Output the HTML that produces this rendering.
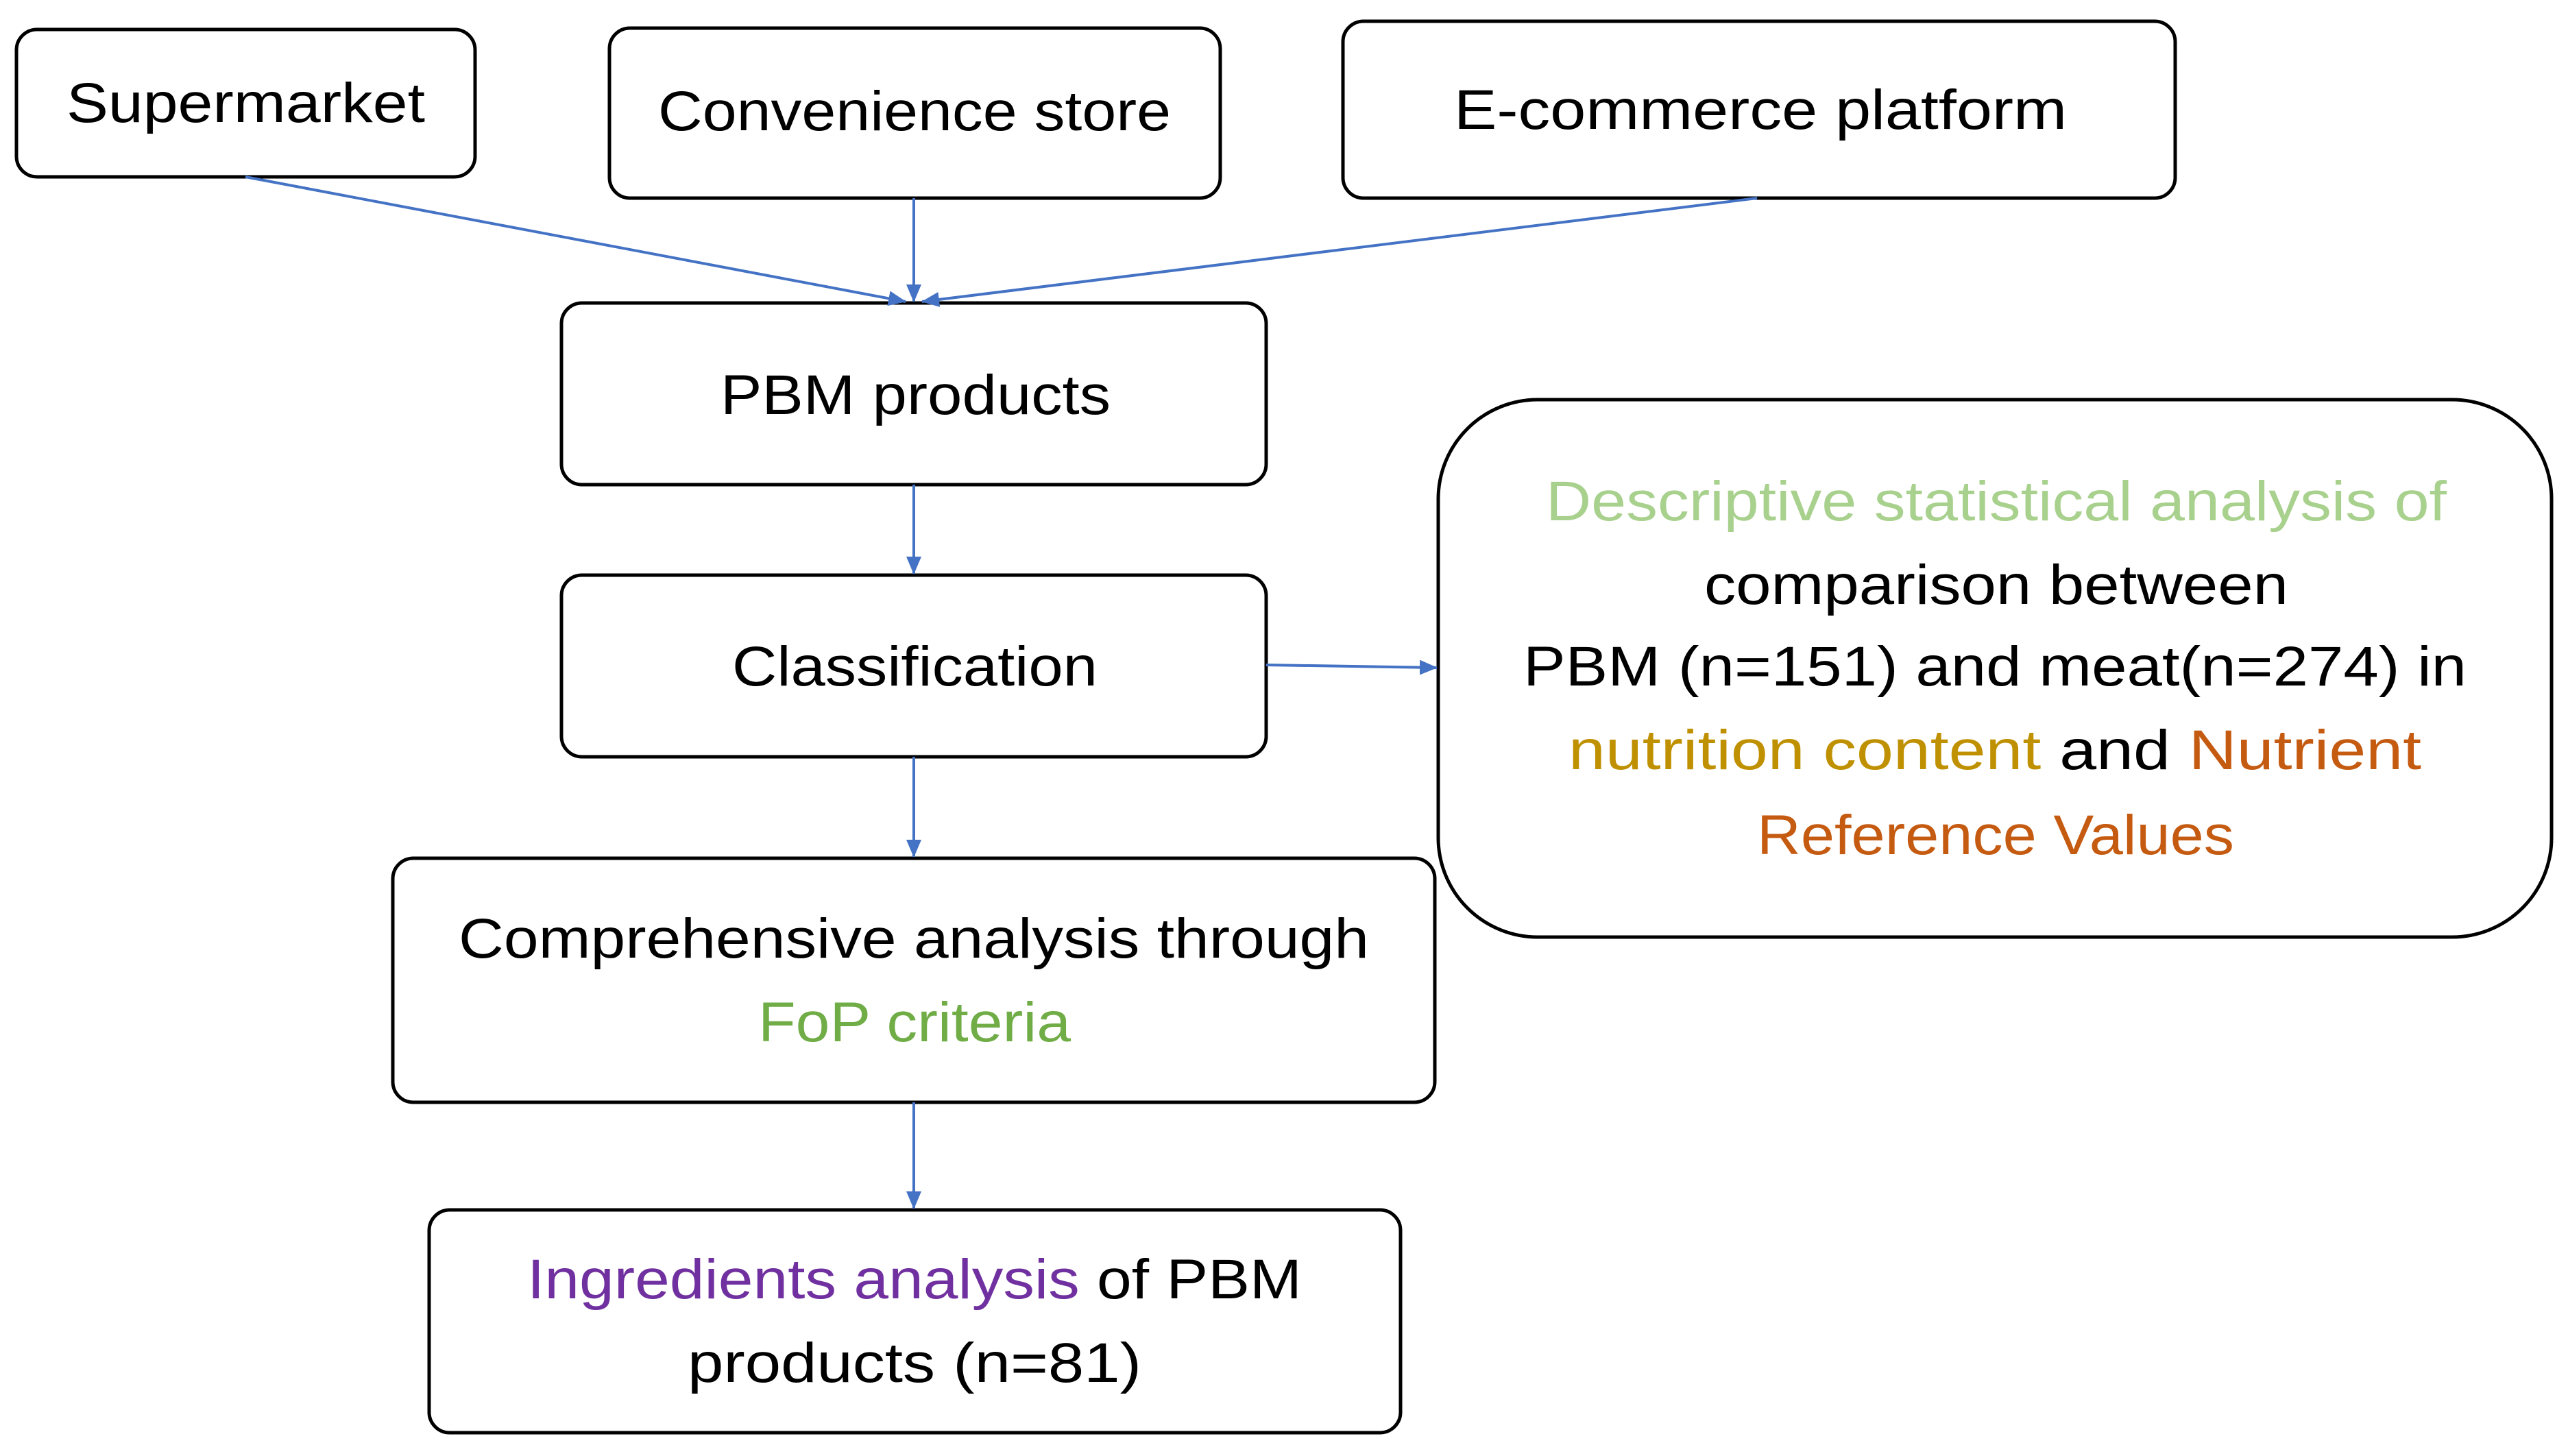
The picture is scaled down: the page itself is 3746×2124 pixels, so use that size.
<!DOCTYPE html>
<html><head><meta charset="utf-8"><style>html,body{margin:0;padding:0;background:#fff}svg{display:block}</style></head>
<body>
<svg width="3746" height="2124" viewBox="0 0 3746 2124" xmlns="http://www.w3.org/2000/svg" font-family="'Liberation Sans', sans-serif" font-size="82">
<defs><marker id="a" markerWidth="10" markerHeight="10" refX="9" refY="5" orient="auto" markerUnits="userSpaceOnUse" viewBox="0 0 10 10"><path d="M0,0 L10,5 L0,10 z" fill="#4472C4"/></marker>
<marker id="b" markerWidth="26" markerHeight="26" refX="25" refY="13" orient="auto" markerUnits="userSpaceOnUse" viewBox="0 0 26 26"><path d="M0,2 L26,13 L0,24 z" fill="#4472C4"/></marker></defs>
<g fill="#fff" stroke="#000" stroke-width="5">
<rect x="24" y="43" width="669" height="215" rx="30"/>
<rect x="889" y="41" width="891" height="248" rx="30"/>
<rect x="1959" y="31" width="1214" height="258" rx="30"/>
<rect x="819" y="442" width="1028" height="265" rx="30"/>
<rect x="819" y="839" width="1028" height="265" rx="30"/>
<rect x="2098" y="583" width="1624" height="784" rx="145"/>
<rect x="573" y="1252" width="1520" height="356" rx="30"/>
<rect x="626" y="1765" width="1417" height="325" rx="30"/>
</g>
<g stroke="#4472C4" stroke-width="4" fill="none" marker-end="url(#b)">
<line x1="358" y1="258" x2="1321" y2="440"/>
<line x1="1333" y1="289" x2="1333" y2="440"/>
<line x1="2563" y1="289" x2="1345" y2="440"/>
<line x1="1333" y1="707" x2="1333" y2="837"/>
<line x1="1847" y1="970" x2="2096" y2="974"/>
<line x1="1333" y1="1104" x2="1333" y2="1250"/>
<line x1="1333" y1="1608" x2="1333" y2="1763"/>
</g>
<g fill="#000" lengthAdjust="spacingAndGlyphs">
<text x="97" y="178" textLength="523" lengthAdjust="spacingAndGlyphs">Supermarket</text>
<text x="960" y="190" textLength="748" lengthAdjust="spacingAndGlyphs">Convenience store</text>
<text x="2121" y="188" textLength="894" lengthAdjust="spacingAndGlyphs">E-commerce platform</text>
<text x="1051" y="604" textLength="569" lengthAdjust="spacingAndGlyphs">PBM products</text>
<text x="1068" y="1000" textLength="533" lengthAdjust="spacingAndGlyphs">Classification</text>
<text x="2255" y="759" textLength="1314" lengthAdjust="spacingAndGlyphs" fill="#A9D18E">Descriptive statistical analysis of</text>
<text x="2486" y="881" textLength="852" lengthAdjust="spacingAndGlyphs">comparison between</text>
<text x="2222" y="1000" textLength="1376" lengthAdjust="spacingAndGlyphs">PBM (n=151) and meat(n=274) in</text>
<text x="2288" y="1122" textLength="1244" lengthAdjust="spacingAndGlyphs"><tspan fill="#BF9000">nutrition content</tspan> and <tspan fill="#C55A11">Nutrient</tspan></text>
<text x="2563" y="1246" textLength="696" lengthAdjust="spacingAndGlyphs" fill="#C55A11">Reference Values</text>
<text x="669" y="1397" textLength="1328" lengthAdjust="spacingAndGlyphs">Comprehensive analysis through</text>
<text x="1106" y="1519" textLength="456" lengthAdjust="spacingAndGlyphs" fill="#70AD47">FoP criteria</text>
<text x="769" y="1894" textLength="1130" lengthAdjust="spacingAndGlyphs"><tspan fill="#7030A0">Ingredients analysis</tspan> of PBM</text>
<text x="1003" y="2016" textLength="662" lengthAdjust="spacingAndGlyphs">products (n=81)</text>
</g>
</svg>
</body></html>
